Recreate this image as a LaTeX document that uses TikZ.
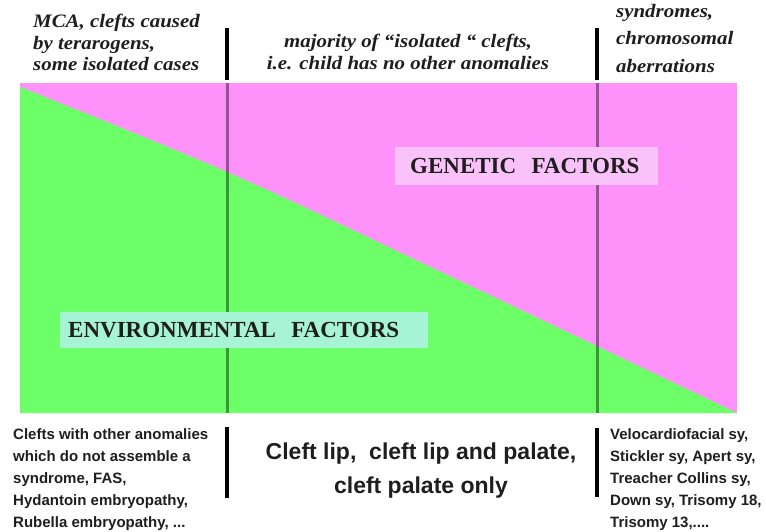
\documentclass[tikz,border=0pt]{standalone}
\usepackage{fontspec}
\newfontfamily\topfont[FakeStretch=1.1]{Liberation Serif}
\newfontfamily\labfont{Liberation Serif}
\newfontfamily\botfont{Liberation Sans}
\definecolor{pinkf}{RGB}{255,145,250}
\definecolor{greenf}{RGB}{108,255,104}
\definecolor{genbox}{RGB}{249,195,249}
\definecolor{envbox}{RGB}{166,243,214}
\definecolor{ink}{RGB}{30,30,30}
\tikzset{
  toptext/.style={inner sep=0pt, text=ink, font=\topfont\bfseries\itshape\fontsize{19}{21.5}\selectfont},
  bottext/.style={inner sep=0pt, text=ink, align=left, font=\botfont\bfseries\fontsize{15}{22}\selectfont},
  midtext/.style={inner sep=0pt, text=ink, align=center, font=\botfont\bfseries\fontsize{23}{34}\selectfont},
  factor/.style={inner ysep=0pt, text=ink, align=left, font=\labfont\bfseries\fontsize{23}{25}\selectfont},
  divider/.style={line width=3.2pt, black},
  innerdiv/.style={line width=3pt, black, opacity=0.42}
}
\begin{document}
\begin{tikzpicture}[x=1pt,y=-1pt]
\useasboundingbox (0,0) rectangle (766,531);
% chart
\fill[pinkf] (20,83) rectangle (737,413);
\fill[greenf] plot[smooth, tension=0.6] coordinates {(20,87) (227,172) (420,262) (737,413)} -- (20,413) -- cycle;
% inner dividers
\coordinate (l1) at (227,83);
\coordinate (l2) at (227,413);
\coordinate (r1) at (597,83);
\coordinate (r2) at (597,413);
\draw[innerdiv] (l1) -- (l2);
\draw[innerdiv] (r1) -- (r2);
% top and bottom dividers
\coordinate (lt1) at (227,28);
\coordinate (lt2) at (227,80);
\coordinate (rt1) at (597,28);
\coordinate (rt2) at (597,80);
\coordinate (lb1) at (227,427);
\coordinate (lb2) at (227,498);
\coordinate (rb1) at (597,428);
\coordinate (rb2) at (597,497);
\draw[divider] (lt1) -- (lt2);
\draw[divider] (rt1) -- (rt2);
\draw[divider] (lb1) -- (lb2);
\draw[divider] (rb1) -- (rb2);
% factor labels
\node[factor, fill=genbox, anchor=west, minimum height=38pt, inner xsep=15pt, text width=233pt] (gen) at (395,166) {GENETIC\ \ FACTORS};
\node[factor, fill=envbox, anchor=west, minimum height=36pt, inner xsep=8pt, text width=352pt] (env) at (60,330) {ENVIRONMENTAL\ \ FACTORS};
% top texts
\node[toptext, anchor=north west, align=left] (tl) at (33,14) {MCA, clefts caused\\by terarogens,\\some isolated cases};
\node[toptext, anchor=north, align=center] (tm) at (408,34) {majority of “isolated “ clefts,\\i.e. child has no other anomalies};
\node[toptext, anchor=north west, align=left, font=\topfont\bfseries\itshape\fontsize{19}{27.5}\selectfont] (tr) at (616,4) {syndromes,\\chromosomal\\aberrations};
% bottom texts
\node[bottext, anchor=north west] (bl) at (13,428) {Clefts with other anomalies\\which do not assemble a\\syndrome, FAS,\\Hydantoin embryopathy,\\Rubella embryopathy, ...};
\node[midtext, anchor=north] (bm) at (421,443) {Cleft lip,\ \ cleft lip and palate,\\cleft palate only};
\node[bottext, anchor=north west] (br) at (610,428) {Velocardiofacial sy,\\Stickler sy, Apert sy,\\Treacher Collins sy,\\Down sy, Trisomy 18,\\Trisomy 13,....};
\end{tikzpicture}
\end{document}
